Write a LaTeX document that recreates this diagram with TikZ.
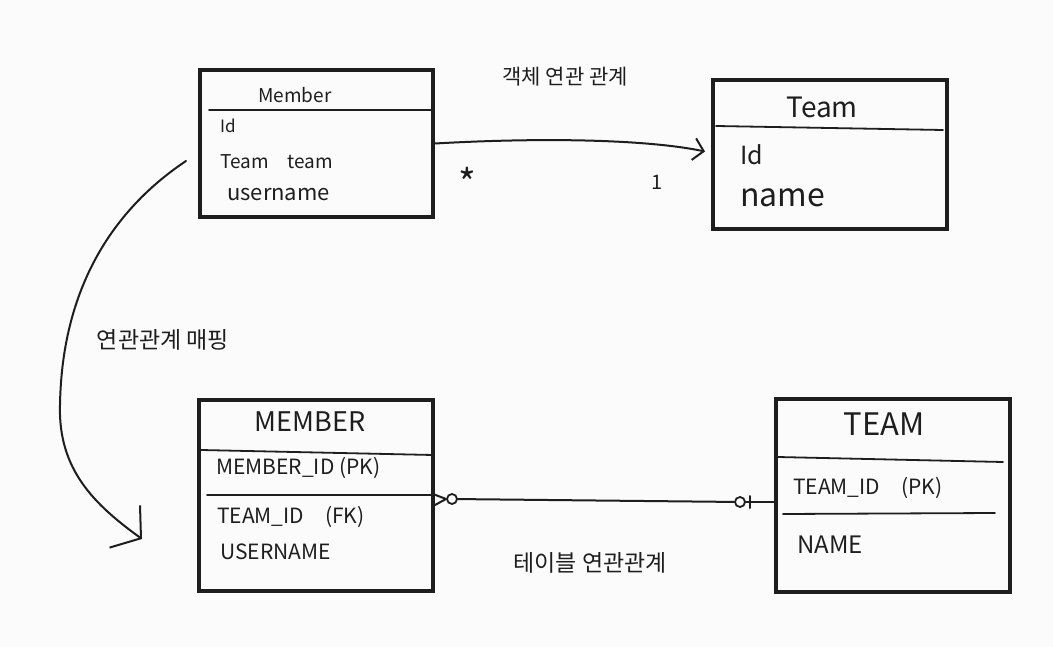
\documentclass[tikz,border=0pt]{standalone}
\usepackage{fontspec}
\newfontfamily\kr{Noto Sans CJK KR}
\usetikzlibrary{arrows.meta,calc}
\definecolor{ink}{RGB}{30,30,30}
\definecolor{paper}{RGB}{251,251,251}
\begin{document}
\begin{tikzpicture}[x=1pt,y=-1pt,
  box/.style={draw=ink,line width=4pt,rectangle,inner sep=0pt},
  div/.style={draw=ink,line width=1.8pt,line cap=round},
  conn/.style={draw=ink,line width=2pt,line cap=round,line join=round},
  txt/.style={text=ink,anchor=west,inner sep=0pt},
  ctxt/.style={text=ink,anchor=center,inner sep=0pt},
  fs/.style={font=\kr\fontsize{#1}{#1}\selectfont},
  circ/.style={circle,draw=ink,line width=1.8pt,minimum size=10pt,inner sep=0pt,fill=paper}]
\fill[paper] (0,0) rectangle (1053,647);
\useasboundingbox (0,0) rectangle (1053,647);

% boxes
\node[box,minimum width=233pt,minimum height=147pt] (mem) at (316.5,143.5) {};
\node[box,minimum width=234pt,minimum height=149pt] (team) at (830,154.5) {};
\node[box,minimum width=234pt,minimum height=191pt] (MEM) at (316,495.5) {};
\node[box,minimum width=234pt,minimum height=193pt] (TEAM) at (893,495.5) {};

% dividers
\draw[div] (209,110) -- (431,110);
\draw[div] (716,126) -- (943,130);
\draw[div] (201,450) -- (433,455);
\draw[div] (207,495) -- (433,495);
\draw[div] (778,457) -- (1003,462);
\draw[div] (783,514) -- (995,513);

% object texts
\node[ctxt,fs=19] (mt) at (295,95) {Member};
\node[txt,fs=17] (m1) at (220,126) {Id};
\node[txt,fs=19] (m2) at (220,162) {Team\quad team};
\node[txt,fs=22] (m3) at (227,195) {username};

\node[ctxt,fs=28] (tt) at (822,107) {Team};
\node[txt,fs=25] (t1) at (740,155) {Id};
\node[txt,fs=32] (t2) at (740,198) {name};

% table texts
\node[ctxt,fs=27] (MT) at (310,422) {MEMBER};
\node[txt,fs=21] (M1) at (216,468) {MEMBER\_ID (PK)};
\node[txt,fs=21] (M2) at (217,517) {TEAM\_ID\quad(FK)};
\node[txt,fs=21] (M3) at (220,552) {USERNAME};

\node[ctxt,fs=31] (TT) at (884,424) {TEAM};
\node[txt,fs=21] (T1) at (793,488) {TEAM\_ID\quad(PK)};
\node[txt,fs=24] (T2) at (797,545) {NAME};

% labels
\node[ctxt,fs=21] (l1) at (565,77) {객체 연관 관계};
\node[ctxt,fs=23] (l2) at (163,340) {연관관계 매핑};
\node[ctxt,fs=23] (l3) at (590,563) {테이블 연관관계};
\node[ctxt,fs=38] (star) at (467,182) {*};
\node[ctxt,fs=20] (one) at (657,182) {1};

% object association arrow
\draw[conn,-{Straight Barb[length=10pt,width=22pt]}] (mem.east) .. controls (550,137) and (650,140) .. ([xshift=-6pt,yshift=3pt]team.west);

% mapping arrow
\coordinate (cs) at (186,161);
\coordinate (ce) at (142,539);
\draw[conn,-{Straight Barb[length=20pt,width=52pt]}] (cs) .. controls (120,205) and (62,280) .. (60,405) .. controls (58,470) and (95,505) .. (ce);

% table association
\node[circ] (c1) at (452,499) {};
\node[circ] (c2) at (740,502) {};
\draw[conn] (433,494) -- (c1.west) -- (435,505);
\draw[conn] (c1) -- (c2);
\draw[conn] (c2) -- (TEAM.west |- c2);
\draw[conn] ($(c2)+(10,-6)$) -- ($(c2)+(10,6)$);
\end{tikzpicture}
\end{document}
